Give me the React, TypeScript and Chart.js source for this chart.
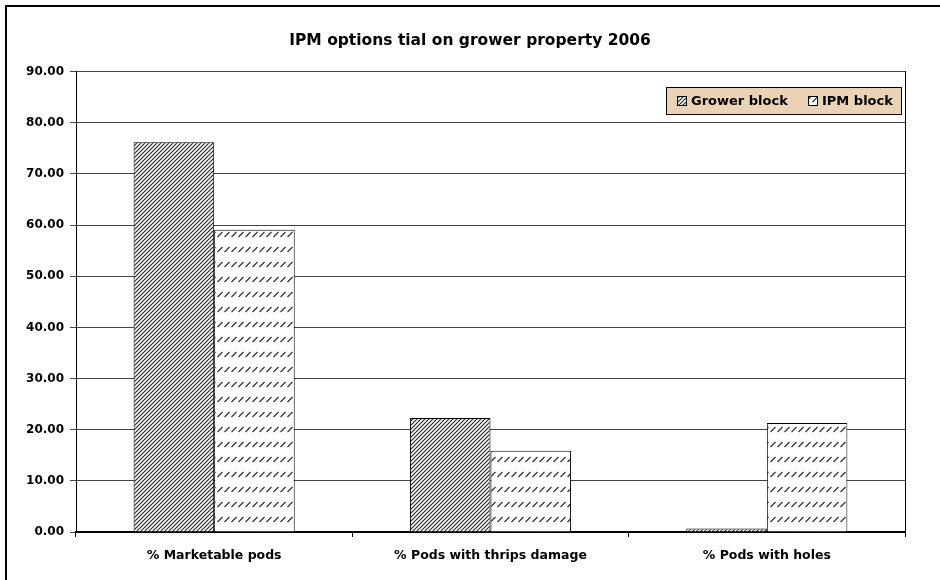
import React, { useEffect, useRef } from "react";
import { Chart, registerables } from "chart.js";

Chart.register(...registerables);

const TITLE = "IPM options tial on grower property 2006";
const categories = ["% Marketable pods", "% Pods with thrips damage", "% Pods with holes"];
const seriesLabels = ["Grower block", "IPM block"];
const growerBlock = [76.2, 22.3, 0.7];
const ipmBlock = [59.1, 15.9, 21.3];
const yMin = 0;
const yMax = 90;
const yStep = 10;

const FONT = "'DejaVu Sans', Arial, sans-serif";

function makeGrowerPattern(ctx: CanvasRenderingContext2D) {
  const c = document.createElement("canvas");
  c.width = 4;
  c.height = 4;
  const g = c.getContext("2d")!;
  g.fillStyle = "#fff";
  g.fillRect(0, 0, 4, 4);
  g.strokeStyle = "#2a2a2a";
  g.lineWidth = 1.2;
  g.beginPath();
  g.moveTo(-1, 5);
  g.lineTo(5, -1);
  g.moveTo(-1, 1);
  g.lineTo(1, -1);
  g.moveTo(3, 5);
  g.lineTo(5, 3);
  g.stroke();
  return ctx.createPattern(c, "repeat")!;
}

function makeIpmPattern(ctx: CanvasRenderingContext2D) {
  const c = document.createElement("canvas");
  c.width = 7;
  c.height = 15;
  const g = c.getContext("2d")!;
  g.fillStyle = "#fff";
  g.fillRect(0, 0, 7, 15);
  g.strokeStyle = "#333";
  g.lineWidth = 1.3;
  g.beginPath();
  g.moveTo(0.5, 12);
  g.lineTo(5.5, 7);
  g.stroke();
  return ctx.createPattern(c, "repeat")!;
}

export default function App() {
  const ref = useRef<HTMLCanvasElement | null>(null);

  useEffect(() => {
    document.body.style.margin = "0";
    const canvas = ref.current!;
    const ctx = canvas.getContext("2d")!;
    const growerPat = makeGrowerPattern(ctx);
    const ipmPat = makeIpmPattern(ctx);
    const patterns = [growerPat, ipmPat];

    const decor = {
      id: "decor",
      afterDraw(chart: any) {
        const c = chart.ctx as CanvasRenderingContext2D;
        const a = chart.chartArea;
        c.save();
        // outer frame (left + top)
        c.fillStyle = "#000";
        c.fillRect(5, 5, 2, 580);
        c.fillRect(5, 5, 940, 2);
        // legend
        const lw = 235;
        const lh = 27;
        const lx = Math.round(a.right) - 4 - lw;
        const ly = Math.round(a.top) + 15;
        c.fillStyle = "#E9D2B6";
        c.fillRect(lx, ly, lw, lh);
        c.strokeStyle = "#000";
        c.lineWidth = 1;
        c.strokeRect(lx + 0.5, ly + 0.5, lw, lh);
        c.font = `bold 13px ${FONT}`;
        c.textBaseline = "middle";
        const labels = chart.data.datasets.map((d: any) => d.label);
        const offsets = [11, 142];
        labels.forEach((lab: string, i: number) => {
          const mx = lx + offsets[i];
          const my = ly + 9;
          c.fillStyle = patterns[i];
          c.fillRect(mx, my, 9, 9);
          c.strokeStyle = "#000";
          c.strokeRect(mx + 0.5, my + 0.5, 9, 9);
          c.fillStyle = "#000";
          c.fillText(lab, mx + 14, ly + lh / 2 + 1);
        });
        c.restore();
      },
    };

    const chart = new Chart(canvas, {
      type: "bar",
      data: {
        labels: categories,
        datasets: [
          {
            label: seriesLabels[0],
            data: growerBlock,
            backgroundColor: growerPat as any,
            borderColor: "#000",
            borderWidth: 1,
            categoryPercentage: 0.583,
            barPercentage: 1,
          },
          {
            label: seriesLabels[1],
            data: ipmBlock,
            backgroundColor: ipmPat as any,
            borderColor: "#000",
            borderWidth: 1,
            categoryPercentage: 0.583,
            barPercentage: 1,
          },
        ],
      },
      options: {
        animation: false,
        responsive: false,
        layout: { padding: 0 },
        plugins: {
          legend: { display: false },
          tooltip: { enabled: false },
          title: {
            display: true,
            text: TITLE,
            color: "#000",
            font: { family: FONT, size: 15.5, weight: "bold" },
            padding: { top: 32, bottom: 21 },
          },
        },
        scales: {
          x: {
            offset: true,
            grid: {
              display: true,
              drawOnChartArea: false,
              drawTicks: true,
              tickLength: 5,
              color: "#000",
              offset: true,
            },
            border: { display: true, color: "#000", width: 2 },
            ticks: {
              color: "#000",
              font: { family: FONT, size: 12.5, weight: "bold" },
              padding: 11,
              maxRotation: 0,
            },
            afterFit(scale: any) {
              scale.height = 48;
            },
          },
          y: {
            min: yMin,
            max: yMax,
            ticks: {
              stepSize: yStep,
              color: "#000",
              font: { family: FONT, size: 12, weight: "bold" },
              padding: 6,
              callback: (v: any) => Number(v).toFixed(2),
            },
            grid: { color: "#444", lineWidth: 1, tickLength: 6 },
            border: { display: true, color: "#000", width: 1 },
            afterFit(scale: any) {
              scale.width = 76;
            },
          },
          yRight: {
            position: "right",
            min: yMin,
            max: yMax,
            ticks: { display: false },
            grid: { display: false, drawOnChartArea: false },
            border: { display: true, color: "#000", width: 1 },
            afterFit(scale: any) {
              scale.width = 35;
            },
          },
        },
      },
      plugins: [decor],
    });
    return () => chart.destroy();
  }, []);

  return (
    <div style={{ width: 940, height: 580, background: "#fff" }}>
      <canvas ref={ref} width={940} height={580} style={{ display: "block" }} />
    </div>
  );
}
